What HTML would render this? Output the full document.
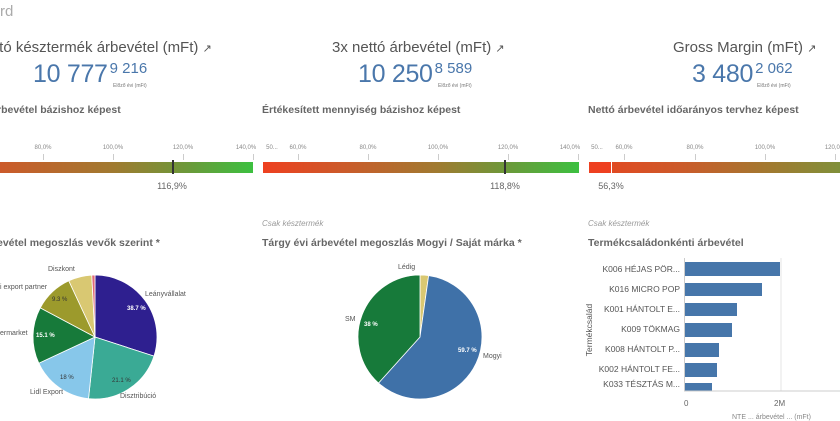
<!DOCTYPE html>
<html><head><meta charset="utf-8"><style>
body{margin:0;width:840px;height:420px;overflow:hidden;background:#fff;font-family:"Liberation Sans",sans-serif;position:relative;color:#555}
div{position:absolute;white-space:nowrap}
.kt{font-size:15px;color:#555;top:39px}
.big{font-size:25px;color:#4a77ab;top:60px;letter-spacing:-0.3px}
.big span{font-size:15px;vertical-align:9px;letter-spacing:0;margin-left:2px}
.tiny{font-size:5px;color:#777;top:83px}
.gt{font-size:10.5px;font-weight:bold;color:#666;top:104px}
.tk{font-size:6px;color:#888;top:145px;transform:translateX(-50%)}
.tl{width:1px;height:6px;background:#ccc;top:154px}
.val{font-size:9px;color:#666;top:181px;transform:translateX(-50%)}
.it{font-size:8px;font-style:italic;color:#999;top:219px}
.bt{font-size:10.5px;font-weight:bold;color:#666;top:237px}
.pl{font-size:7px;color:#555}
.bl{font-size:8.5px;color:#555;right:160px;text-align:right}
</style></head><body>
<div style="left:0;top:3px;font-size:15px;color:#aaa">rd</div>

<div class="kt" style="left:-5px">ttó késztermék árbevétel (mFt) <span style="font-size:11px">↗</span></div>
<div class="big" style="left:33px">10 777<span>9 216</span></div><div class="tiny" style="left:113px">Előző évi (mFt)</div>

<div class="kt" style="left:332px">3x nettó árbevétel (mFt) <span style="font-size:11px">↗</span></div>
<div class="big" style="left:358px">10 250<span>8 589</span></div><div class="tiny" style="left:438px">Előző évi (mFt)</div>

<div class="kt" style="left:673px">Gross Margin (mFt) <span style="font-size:11px">↗</span></div>
<div class="big" style="left:692px">3 480<span>2 062</span></div><div class="tiny" style="left:757px">Előző évi (mFt)</div>

<div class="gt" style="left:-3px">rbevétel bázishoz képest</div>
<div class="gt" style="left:262px">Értékesített mennyiség bázishoz képest</div>
<div class="gt" style="left:588px">Nettó árbevétel időarányos tervhez képest</div>

<div class="tk" style="left:43px">80,0%</div><div class="tk" style="left:113px">100,0%</div><div class="tk" style="left:183px">120,0%</div><div class="tk" style="left:246px">140,0%</div>
<div class="tl" style="left:43px"></div><div class="tl" style="left:113px"></div><div class="tl" style="left:183px"></div><div class="tl" style="left:253px"></div>
<div style="left:0;top:162px;width:253px;height:11px;background:linear-gradient(90deg,#cc5a2a,#a07a30 45%,#6a9a3a 75%,#3cc040)"></div>
<div style="left:172px;top:160px;width:2px;height:14px;background:#333"></div>
<div class="val" style="left:172px">116,9%</div>

<div class="tk" style="left:272px">50...</div><div class="tk" style="left:298px">60,0%</div><div class="tk" style="left:368px">80,0%</div><div class="tk" style="left:438px">100,0%</div><div class="tk" style="left:508px">120,0%</div><div class="tk" style="left:570px">140,0%</div>
<div class="tl" style="left:298px"></div><div class="tl" style="left:368px"></div><div class="tl" style="left:438px"></div><div class="tl" style="left:508px"></div><div class="tl" style="left:578px"></div>
<div style="left:263px;top:162px;width:316px;height:11px;background:linear-gradient(90deg,#ee4020,#cc5a2a 25%,#a07a30 55%,#6a9a3a 78%,#3cc040)"></div>
<div style="left:504px;top:160px;width:2px;height:14px;background:#333"></div>
<div class="val" style="left:505px">118,8%</div>

<div class="tk" style="left:597px">50...</div><div class="tk" style="left:624px">60,0%</div><div class="tk" style="left:695px">80,0%</div><div class="tk" style="left:765px">100,0%</div><div class="tk" style="left:835px">120,0%</div>
<div class="tl" style="left:624px"></div><div class="tl" style="left:695px"></div><div class="tl" style="left:765px"></div><div class="tl" style="left:835px"></div>
<div style="left:589px;top:162px;width:22px;height:11px;background:#ee4020"></div>
<div style="left:612px;top:162px;width:228px;height:11px;background:linear-gradient(90deg,#e04a22,#cc5a2a 30%,#a07a30 70%,#80903a)"></div>
<div class="val" style="left:611px">56,3%</div>

<div class="it" style="left:262px">Csak késztermék</div>
<div class="it" style="left:588px">Csak késztermék</div>
<div class="bt" style="left:-3px">evétel megoszlás vevők szerint *</div>
<div class="bt" style="left:262px">Tárgy évi árbevétel megoszlás Mogyi / Saját márka *</div>
<div class="bt" style="left:588px">Termékcsaládonkénti árbevétel</div>

<svg style="position:absolute;left:0;top:0" width="840" height="420">
<g id="p1"></g><g id="p2"></g>
<g fill="#4676aa">
<rect x="685" y="262" width="95" height="14"/>
<rect x="685" y="283" width="77" height="13"/>
<rect x="685" y="303" width="52" height="13"/>
<rect x="685" y="323" width="47" height="14"/>
<rect x="685" y="343" width="34" height="14"/>
<rect x="685" y="363" width="32" height="14"/>
<rect x="685" y="383" width="27" height="8"/>
</g>
<line x1="684.5" y1="258" x2="684.5" y2="391" stroke="#ccc"/>
<line x1="781" y1="258" x2="781" y2="391" stroke="#e4e4e4"/>
<line x1="684" y1="391" x2="840" y2="391" stroke="#ccc"/>
</svg>
<script>
function pie(id,cx,cy,r,sl){var g=document.getElementById(id),a0=0,s='';sl.forEach(function(x){var a1=x[0];var p=function(a){a=a*Math.PI/180;return (cx+r*Math.sin(a)).toFixed(2)+','+(cy-r*Math.cos(a)).toFixed(2)};s+='<path d="M'+cx+','+cy+' L'+p(a0)+' A'+r+','+r+' 0 '+((a1-a0)>180?1:0)+' 1 '+p(a1)+' Z" fill="'+x[1]+'" stroke="#fff" stroke-width="0.8"/>';a0=a1;});g.innerHTML=s;}
pie('p1',95,337,62,[[108,'#2e1f8f'],[186,'#3aaa95'],[245,'#87c7ea'],[298,'#177a3a'],[335,'#9c9a2c'],[357,'#d9c872'],[360,'#e06a7a']]);
pie('p2',420,337,62,[[8,'#d9c872'],[222,'#3f71a8'],[360,'#177a3a']]);
</script>

<div class="pl" style="left:48px;top:266px">Diszkont</div>
<div class="pl" style="left:0;top:284px">i export partner</div>
<div class="pl" style="left:145px;top:291px">Leányvállalat</div>
<div class="pl" style="left:0;top:330px">ermarket</div>
<div class="pl" style="left:30px;top:389px">Lidl Export</div>
<div class="pl" style="left:120px;top:393px">Disztribúció</div>
<div class="pl" style="left:52px;top:297px;font-size:6px;color:#333">9.3 %</div>
<div class="pl" style="left:127px;top:306px;font-size:6px;color:#fff;font-weight:bold">38.7 %</div>
<div class="pl" style="left:36px;top:333px;font-size:6px;color:#fff;font-weight:bold">15.1 %</div>
<div class="pl" style="left:60px;top:375px;font-size:6px;color:#333">18 %</div>
<div class="pl" style="left:112px;top:378px;font-size:6px;color:#333">21.1 %</div>

<div class="pl" style="left:398px;top:264px">Lédig</div>
<div class="pl" style="left:345px;top:316px">SM</div>
<div class="pl" style="left:483px;top:353px">Mogyi</div>
<div class="pl" style="left:364px;top:322px;font-size:6px;color:#fff;font-weight:bold">38 %</div>
<div class="pl" style="left:458px;top:348px;font-size:6px;color:#fff;font-weight:bold">59.7 %</div>

<div class="bl" style="top:264px">K006 HÉJAS PÖR...</div>
<div class="bl" style="top:284px">K016 MICRO POP</div>
<div class="bl" style="top:304px">K001 HÁNTOLT E...</div>
<div class="bl" style="top:324px">K009 TÖKMAG</div>
<div class="bl" style="top:344px">K008 HÁNTOLT P...</div>
<div class="bl" style="top:364px">K002 HÁNTOLT FE...</div>
<div class="bl" style="top:379px">K033 TÉSZTÁS M...</div>
<div style="left:563px;top:325px;font-size:8.5px;color:#555;transform:rotate(-90deg)">Termékcsalád</div>
<div style="left:684px;top:399px;font-size:8px;color:#666">0</div>
<div style="left:774px;top:399px;font-size:8px;color:#666">2M</div>
<div style="left:732px;top:414px;font-size:7px;color:#888">NTE ... árbevétel ... (mFt)</div>
</body></html>
